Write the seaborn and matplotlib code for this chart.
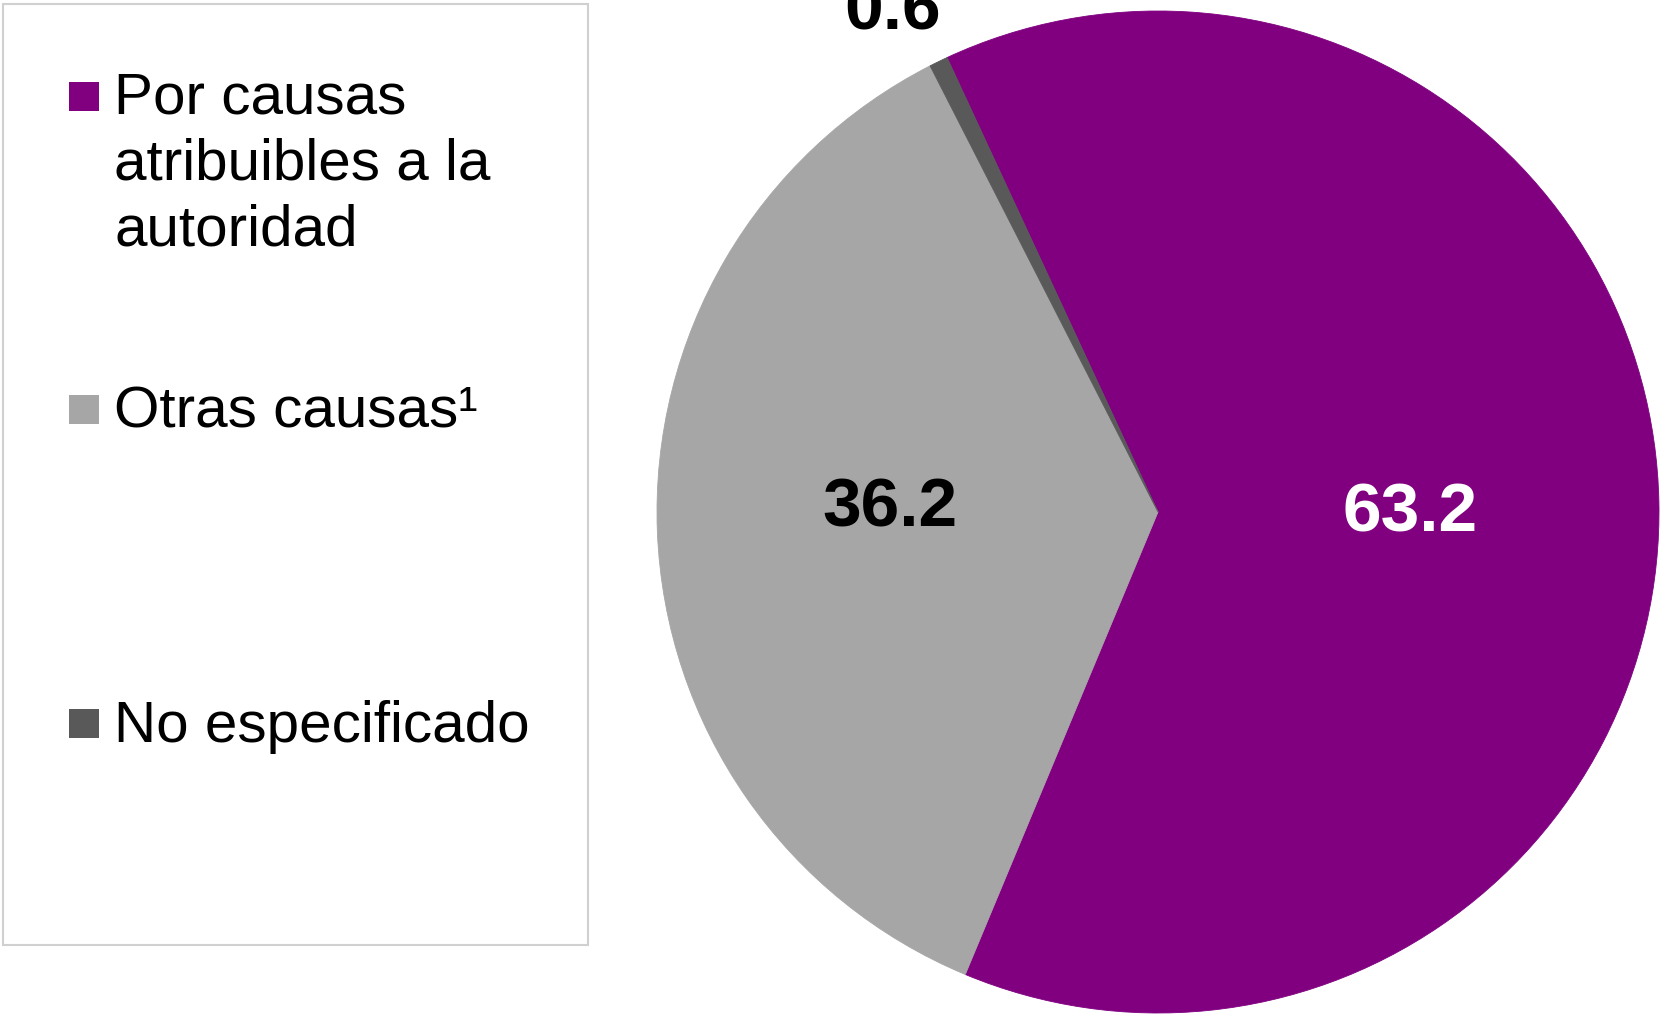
import matplotlib
matplotlib.use("Agg")
import matplotlib.pyplot as plt
from matplotlib.patches import Rectangle
import numpy as np
import seaborn as sns

# Shares by cause (percent)
categories = ["Por causas\natribuibles a la\nautoridad", "Otras causas\u00b9", "No especificado"]
values = [63.2, 36.2, 0.6]
value_labels = ["63.2", "36.2", "0.6"]
colors = ["#800080", "#A6A6A6", "#595959"]
label_colors = ["white", "black", "black"]

sns.set_theme(style="white")
plt.rcParams["font.family"] = ["Liberation Sans", "DejaVu Sans"]

W, H = 1669, 1017
fig = plt.figure(figsize=(W / 100, H / 100), dpi=100)
fig.patch.set_facecolor("white")

# Pie axes: centre (1158, 512) px, radius ~501 px
cx, cy, r = 1158, 512, 501
ax = fig.add_axes([(cx - r) / W, (H - cy - r) / H, 2 * r / W, 2 * r / H])
wedges, _ = ax.pie(values, colors=colors, startangle=114.9, counterclock=False,
                   radius=1.0, wedgeprops=dict(linewidth=0))
# edge in the wedge's own colour closes antialiasing seams between slices
for w, c in zip(wedges, colors):
    w.set_edgecolor(c)
    w.set_linewidth(0.6)
ax.set_xlim(-1, 1)
ax.set_ylim(-1, 1)
ax.set_aspect("equal")
ax.axis("off")

# Value labels: radial distance and angular nudge from each wedge's mid-angle
label_dist = [0.503, 0.535, 1.143]
label_nudge = [0.0, -4.4, 1.6]
for w, txt, col, d, nud in zip(wedges, value_labels, label_colors, label_dist, label_nudge):
    mid = np.deg2rad((w.theta1 + w.theta2) / 2 + nud)
    ax.text(d * np.cos(mid), d * np.sin(mid), txt, color=col, fontsize=50,
            fontweight="bold", ha="center", va="center_baseline", clip_on=False)

# Legend panel on the left
fig.patches.append(Rectangle((3 / W, (H - 945) / H), 585 / W, 941 / H,
                             transform=fig.transFigure, facecolor="white",
                             edgecolor="#D0D0D0", linewidth=1.5))
line_step = 67
baselines = [112, 428, 742]
sq_tops = [82, 395, 709]
for lab, col, base, top in zip(categories, colors, baselines, sq_tops):
    fig.patches.append(Rectangle((69 / W, (H - top - 29) / H), 30 / W, 29 / H,
                                 transform=fig.transFigure, facecolor=col,
                                 edgecolor="none"))
    # baseline alignment refers to the last line of a multi-line label
    last_base = base + line_step * lab.count("\n")
    fig.text(114 / W, (H - last_base) / H, lab, fontsize=42, color="black",
             ha="left", va="baseline", linespacing=1.295)

fig.savefig("out.png", dpi=100, facecolor="white")
